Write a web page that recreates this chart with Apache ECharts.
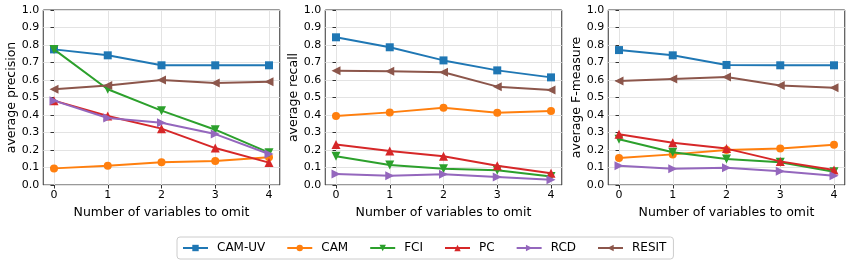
<!DOCTYPE html>
<html><head><meta charset="utf-8">
<script src="https://cdn.jsdelivr.net/npm/echarts@6/dist/echarts.min.js"></script>
<style>html,body{margin:0;padding:0;background:#fff}#c{width:850px;height:264px}</style>
</head><body><div id="c"></div>
<script>
const xValues = [0, 1, 2, 3, 4];
const methods = ['CAM-UV', 'CAM', 'FCI', 'PC', 'RCD', 'RESIT'];
const panelTitles = ['average precision', 'average recall', 'average F-measure'];
const xTitle = 'Number of variables to omit';
const yTicks = [0, 0.1, 0.2, 0.3, 0.4, 0.5, 0.6, 0.7, 0.8, 0.9, 1.0];

const precisionCAMUV = [0.775, 0.741, 0.684, 0.684, 0.684];
const precisionCAM   = [0.095, 0.110, 0.130, 0.137, 0.158];
const precisionFCI   = [0.775, 0.547, 0.425, 0.316, 0.185];
const precisionPC    = [0.482, 0.394, 0.322, 0.211, 0.128];
const precisionRCD   = [0.482, 0.383, 0.356, 0.291, 0.177];
const precisionRESIT = [0.547, 0.568, 0.600, 0.583, 0.590];

const recallCAMUV = [0.844, 0.787, 0.712, 0.655, 0.615];
const recallCAM   = [0.394, 0.415, 0.442, 0.413, 0.423];
const recallFCI   = [0.164, 0.114, 0.093, 0.084, 0.048];
const recallPC    = [0.232, 0.194, 0.164, 0.110, 0.067];
const recallRCD   = [0.063, 0.053, 0.061, 0.046, 0.030];
const recallRESIT = [0.653, 0.650, 0.644, 0.562, 0.543];

const fCAMUV = [0.771, 0.741, 0.686, 0.684, 0.684];
const fCAM   = [0.154, 0.175, 0.200, 0.208, 0.230];
const fFCI   = [0.261, 0.187, 0.149, 0.130, 0.076];
const fPC    = [0.290, 0.242, 0.208, 0.135, 0.086];
const fRCD   = [0.110, 0.093, 0.099, 0.078, 0.053];
const fRESIT = [0.594, 0.606, 0.617, 0.568, 0.556];

const panels = [
  [precisionCAMUV, precisionCAM, precisionFCI, precisionPC, precisionRCD, precisionRESIT],
  [recallCAMUV, recallCAM, recallFCI, recallPC, recallRCD, recallRESIT],
  [fCAMUV, fCAM, fFCI, fPC, fRCD, fRESIT]
];

const colors = ['#1f77b4', '#ff7f0e', '#2ca02c', '#d62728', '#9467bd', '#8c564b'];
const symbols = ['rect', 'circle', 'triangle', 'triangle', 'triangle', 'triangle'];
const rotates = [0, 0, 180, 0, -90, 90];
const sizes = [8, 8, 9, 9, 9, 9];

const gridLefts = [43.25, 325.25, 608.25];
const font = 'DejaVu Sans';

const grids = [], xAxes = [], yAxes = [], series = [];
gridLefts.forEach((l, p) => {
  grids.push({left: l, top: 10, width: 236.5, height: 175, show: true, borderColor: '#333', borderWidth: 1, containLabel: false});
  xAxes.push({
    type: 'value', gridIndex: p, min: -0.2, max: 4.2,
    name: xTitle, nameLocation: 'middle', nameGap: 18,
    nameTextStyle: {fontFamily: font, fontSize: 12.5, color: '#000'},
    axisLine: {show: false},
    axisTick: {show: true, length: 3.5, inside: false, lineStyle: {color: '#333'}, customValues: xValues},
    axisLabel: {fontFamily: font, fontSize: 11, color: '#000', margin: 5, customValues: xValues},
    splitLine: {show: true, lineStyle: {color: '#e3e3e3', width: 1}}
  });
  yAxes.push({
    type: 'value', gridIndex: p, min: 0, max: 1, interval: 0.1,
    name: panelTitles[p], nameLocation: 'middle', nameGap: 25,
    nameTextStyle: {fontFamily: font, fontSize: 12.5, color: '#000'},
    axisLine: {show: false},
    axisTick: {show: true, length: 3.5, lineStyle: {color: '#333'}},
    axisLabel: {fontFamily: font, fontSize: 11, color: '#000', margin: 4, formatter: v => v.toFixed(1)},
    splitLine: {show: true, lineStyle: {color: '#e3e3e3', width: 1}}
  });
  panels[p].forEach((vals, i) => {
    series.push({
      name: methods[i], type: 'line', xAxisIndex: p, yAxisIndex: p,
      data: xValues.map((x, k) => [x, vals[k]]),
      symbol: symbols[i], symbolSize: sizes[i], symbolRotate: rotates[i],
      showAllSymbol: true,
      lineStyle: {color: colors[i], width: 2},
      itemStyle: {color: colors[i], borderWidth: 0},
      emphasis: {disabled: true}, animation: false, z: 2 + i
    });
  });
});

const chart = echarts.init(document.getElementById('c'), null, {renderer: 'canvas'});
chart.setOption({
  animation: false,
  color: colors,
  grid: grids, xAxis: xAxes, yAxis: yAxes, series: series,
  legend: {
    data: methods, left: 177, top: 237, orient: 'horizontal',
    itemWidth: 25, itemHeight: 8, itemGap: 21,
    padding: [5, 7, 5, 5],
    borderColor: '#ccc', borderWidth: 1, borderRadius: 3,
    textStyle: {fontFamily: font, fontSize: 12, color: '#000', padding: [0, 0, 0, 4]},
    symbolRotate: 'inherit'
  }
});
</script></body></html>
